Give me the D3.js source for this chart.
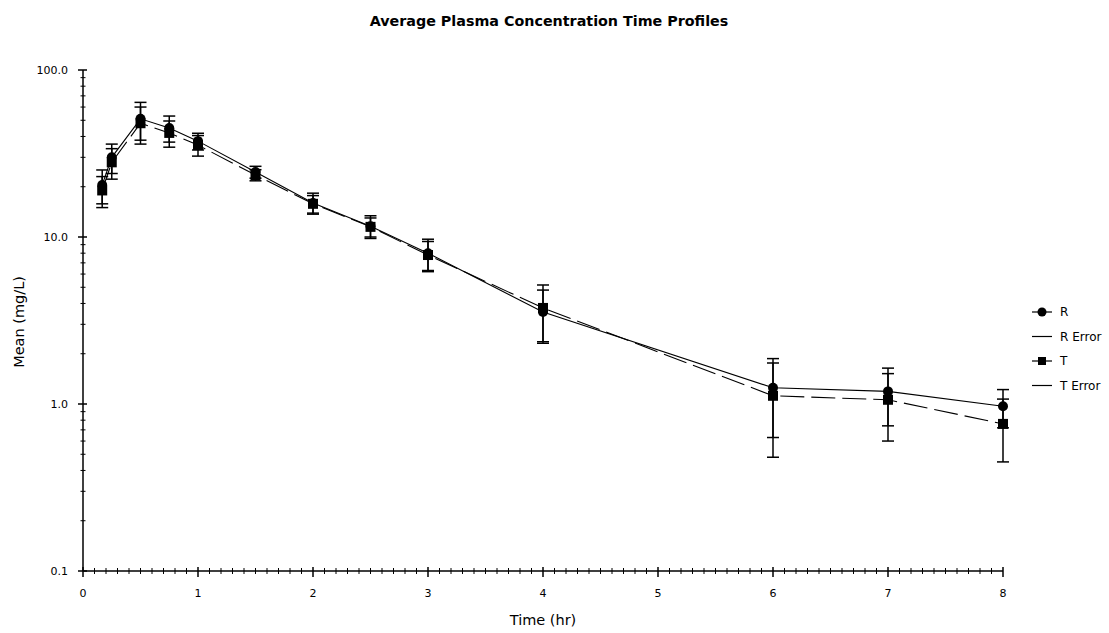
<!DOCTYPE html>
<html>
<head>
<meta charset="utf-8">
<script src="https://cdn.jsdelivr.net/npm/d3@7"></script>
<style>
  body { margin: 0; background: #fff; }
  text { font-family: "DejaVu Sans", sans-serif; fill: #000; }
  .tick-label { font-size: 11px; }
  .axis-title { font-size: 14.5px; }
  .legend-label { font-size: 12px; }
  .title { font-size: 14.3px; font-weight: bold; }
</style>
</head>
<body>
<svg id="chart" width="1109" height="633"></svg>
<script>
const times = [0.167, 0.25, 0.5, 0.75, 1, 1.5, 2, 2.5, 3, 4, 6, 7, 8];
const rMean = [20.5, 30, 51, 45, 37.5, 24.5, 16, 11.6, 8.0, 3.56, 1.25, 1.19, 0.97];
const rSd = [4.7, 6, 13, 8, 4.3, 2.0, 2.3, 1.8, 1.7, 1.25, 0.62, 0.45, 0.25];
const tMean = [19, 28, 48, 42, 35.5, 23.5, 15.8, 11.5, 7.8, 3.76, 1.12, 1.06, 0.76];
const tSd = [4, 5.8, 12, 7.5, 5, 1.8, 1.9, 1.5, 1.6, 1.4, 0.64, 0.46, 0.31];
const yTicks = [0.1, 1, 10, 100];
const xTicks = [0, 1, 2, 3, 4, 5, 6, 7, 8];
const legendItems = ['R', 'R Error', 'T', 'T Error'];

const svg = d3.select('#chart');

const x = d3.scaleLinear().domain([0, 8]).range([83, 1003]);
const y = d3.scaleLog().domain([0.1, 100]).range([571, 70]);

// title
svg.append('text')
  .attr('class', 'title')
  .attr('x', 549)
  .attr('y', 26)
  .attr('text-anchor', 'middle')
  .text('Average Plasma Concentration Time Profiles');

// axes lines
const axes = svg.append('g').attr('stroke', '#000').attr('stroke-width', 1.5);
axes.append('line').attr('x1', x(0)).attr('x2', x(8)).attr('y1', y(0.1)).attr('y2', y(0.1));
axes.append('line').attr('x1', x(0)).attr('x2', x(0)).attr('y1', y(0.1)).attr('y2', y(100));

// y ticks
const yMinor = [];
for (let d = 0.1; d < 100; d *= 10) {
  for (let k = 2; k <= 9; k++) yMinor.push(d * k);
}
axes.selectAll('.ymin').data(yMinor).enter().append('line')
  .attr('x1', x(0) - 2.5).attr('x2', x(0) + 2.5)
  .attr('y1', (d) => y(d)).attr('y2', (d) => y(d))
  .attr('stroke-width', 1);
axes.selectAll('.ymaj').data(yTicks).enter().append('line')
  .attr('x1', x(0) - 5).attr('x2', x(0) + 4)
  .attr('y1', (d) => y(d)).attr('y2', (d) => y(d));
svg.selectAll('.ylab').data(yTicks).enter().append('text')
  .attr('class', 'tick-label')
  .attr('x', 68)
  .attr('y', (d) => y(d) + 4)
  .attr('text-anchor', 'end')
  .text((d) => d.toFixed(1));

// x ticks
const xMinor = d3.range(1, 80).filter((i) => i % 10 !== 0).map((i) => i / 10);
axes.selectAll('.xmin').data(xMinor).enter().append('line')
  .attr('x1', (d) => x(d)).attr('x2', (d) => x(d))
  .attr('y1', y(0.1) - 3).attr('y2', y(0.1) + 3)
  .attr('stroke-width', 1);
axes.selectAll('.xmaj').data(xTicks).enter().append('line')
  .attr('x1', (d) => x(d)).attr('x2', (d) => x(d))
  .attr('y1', y(0.1) - 4).attr('y2', y(0.1) + 6);
svg.selectAll('.xlab').data(xTicks).enter().append('text')
  .attr('class', 'tick-label')
  .attr('x', (d) => x(d))
  .attr('y', 597)
  .attr('text-anchor', 'middle')
  .text((d) => d);

// axis titles
svg.append('text')
  .attr('class', 'axis-title')
  .attr('x', 543).attr('y', 625)
  .attr('text-anchor', 'middle')
  .text('Time (hr)');
svg.append('text')
  .attr('class', 'axis-title')
  .attr('transform', 'translate(24, 322) rotate(-90)')
  .attr('text-anchor', 'middle')
  .text('Mean (mg/L)');

const series = [
  { name: 'R', mean: rMean, sd: rSd, dash: null, shape: 'circle' },
  { name: 'T', mean: tMean, sd: tSd, dash: '24,7', shape: 'square' },
];

const line = d3.line().x((d) => x(d[0])).y((d) => y(d[1]));
const plot = svg.append('g');

series.forEach((s) => {
  const pts = times.map((t, i) => [t, s.mean[i], s.sd[i]]);
  plot.append('path')
    .datum(pts)
    .attr('d', line)
    .attr('fill', 'none')
    .attr('stroke', '#000')
    .attr('stroke-width', 1.1)
    .attr('stroke-dasharray', s.dash);

  const eb = plot.append('g').attr('stroke', '#000').attr('stroke-width', 1.5);
  eb.selectAll('.v').data(pts).enter().append('line')
    .attr('x1', (d) => x(d[0])).attr('x2', (d) => x(d[0]))
    .attr('y1', (d) => y(d[1] + d[2])).attr('y2', (d) => y(d[1] - d[2]));
  eb.selectAll('.u').data(pts).enter().append('line')
    .attr('x1', (d) => x(d[0]) - 6).attr('x2', (d) => x(d[0]) + 6)
    .attr('y1', (d) => y(d[1] + d[2])).attr('y2', (d) => y(d[1] + d[2]));
  eb.selectAll('.l').data(pts).enter().append('line')
    .attr('x1', (d) => x(d[0]) - 6).attr('x2', (d) => x(d[0]) + 6)
    .attr('y1', (d) => y(d[1] - d[2])).attr('y2', (d) => y(d[1] - d[2]));

  if (s.shape === 'circle') {
    plot.selectAll(null).data(pts).enter().append('circle')
      .attr('cx', (d) => x(d[0])).attr('cy', (d) => y(d[1]))
      .attr('r', 5).attr('fill', '#000');
  } else {
    plot.selectAll(null).data(pts).enter().append('rect')
      .attr('x', (d) => x(d[0]) - 5).attr('y', (d) => y(d[1]) - 5)
      .attr('width', 10).attr('height', 10).attr('fill', '#000');
  }
});

// legend
const legend = svg.append('g');
legendItems.forEach((name, i) => {
  const ly = 312 + i * 24.5;
  legend.append('line')
    .attr('x1', 1032).attr('x2', 1052)
    .attr('y1', ly).attr('y2', ly)
    .attr('stroke', '#000').attr('stroke-width', 1.2);
  if (name === 'R') {
    legend.append('circle').attr('cx', 1042).attr('cy', ly).attr('r', 4.5).attr('fill', '#000');
  } else if (name === 'T') {
    legend.append('rect').attr('x', 1038).attr('y', ly - 4).attr('width', 8).attr('height', 8).attr('fill', '#000');
  }
  legend.append('text')
    .attr('class', 'legend-label')
    .attr('x', 1060).attr('y', ly + 4)
    .text(name);
});
</script>
</body>
</html>
